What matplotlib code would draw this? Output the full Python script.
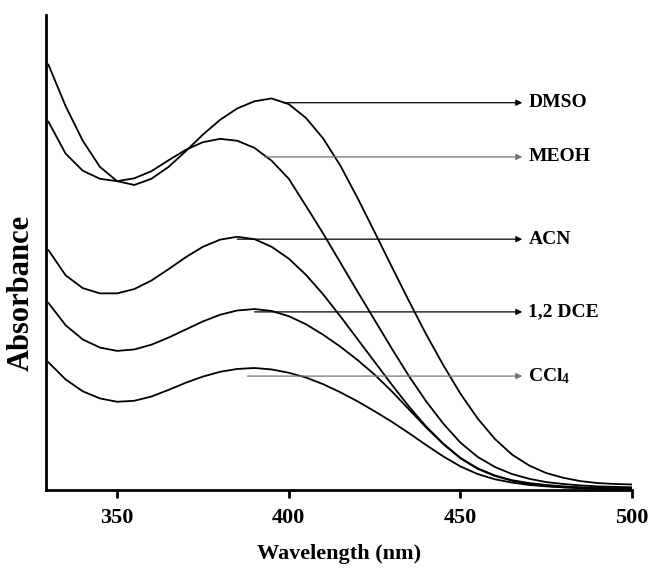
import numpy as np
import matplotlib
matplotlib.use("Agg")
import matplotlib.pyplot as plt

plt.rcParams['font.family'] = ['Liberation Serif', 'DejaVu Serif']
plt.rcParams['font.weight'] = 'bold'
plt.rcParams['mathtext.fontset'] = 'custom'
plt.rcParams['mathtext.bf'] = 'Liberation Serif:bold'
plt.rcParams['mathtext.rm'] = 'Liberation Serif:bold'
plt.rcParams['mathtext.default'] = 'bf'

# wavelength grid (nm), read every 5 nm
wavelength = np.arange(330, 501, 5)

# absorbance (arb. units)
dmso = [0.895, 0.808, 0.735, 0.680, 0.650, 0.642, 0.655, 0.680, 0.713, 0.748,
        0.779, 0.803, 0.818, 0.824, 0.812, 0.783, 0.740, 0.683, 0.615, 0.543,
        0.470, 0.398, 0.328, 0.263, 0.203, 0.151, 0.108, 0.075, 0.052, 0.036,
        0.026, 0.019, 0.015, 0.013, 0.012]
meoh = [0.775, 0.708, 0.672, 0.655, 0.650, 0.656, 0.671, 0.694, 0.716, 0.732,
        0.739, 0.735, 0.720, 0.693, 0.655, 0.598, 0.540, 0.479, 0.418, 0.358,
        0.298, 0.240, 0.187, 0.140, 0.100, 0.070, 0.049, 0.034, 0.024, 0.017,
        0.013, 0.010, 0.008, 0.007, 0.006]
acn = [0.505, 0.452, 0.425, 0.414, 0.414, 0.423, 0.441, 0.465, 0.490, 0.512,
       0.527, 0.533, 0.528, 0.512, 0.487, 0.453, 0.412, 0.366, 0.318, 0.270,
       0.222, 0.176, 0.134, 0.098, 0.068, 0.046, 0.031, 0.021, 0.015, 0.011,
       0.008, 0.006, 0.005, 0.004, 0.004]
dce = [0.394, 0.347, 0.317, 0.300, 0.293, 0.296, 0.306, 0.321, 0.338, 0.355,
       0.369, 0.378, 0.381, 0.377, 0.366, 0.349, 0.327, 0.302, 0.274, 0.243,
       0.208, 0.170, 0.132, 0.097, 0.067, 0.045, 0.030, 0.020, 0.013, 0.009,
       0.006, 0.005, 0.004, 0.004, 0.004]
ccl4 = [0.269, 0.233, 0.208, 0.193, 0.186, 0.188, 0.197, 0.211, 0.226, 0.239,
        0.249, 0.255, 0.257, 0.254, 0.247, 0.237, 0.223, 0.206, 0.187, 0.166,
        0.144, 0.120, 0.095, 0.071, 0.050, 0.034, 0.023, 0.016, 0.011, 0.008,
        0.006, 0.004, 0.003, 0.002, 0.002]

# labels and their arrows: (text, arrow y, arrow start nm)
labels = ['DMSO', 'MEOH', 'ACN', '1,2 DCE', 'CCl$_4$']
arrow_y = [0.815, 0.701, 0.528, 0.375, 0.240]
arrow_start = [398.5, 393.0, 385.0, 390.0, 388.0]
arrow_end = 468.0
arrow_color = ['black', '0.45', 'black', 'black', '0.45']

fig = plt.figure(figsize=(6.51, 5.68), dpi=100)
ax = fig.add_axes([0.0707, 0.137, 0.9003, 0.837])

for series in [dmso, meoh, acn, dce, ccl4]:
    ax.plot(wavelength, series, color='black', lw=1.3)

for text, y, x0, c in zip(labels, arrow_y, arrow_start, arrow_color):
    ax.annotate('', xy=(arrow_end, y), xytext=(x0, y),
                arrowprops=dict(arrowstyle='-|>', color=c, lw=0.9,
                                mutation_scale=9, shrinkA=0, shrinkB=0))
    ax.text(arrow_end + 1.8, y, text, fontsize=14, fontweight='bold',
            va='center', ha='left')

ax.set_xlim(329.3, 500)
ax.set_ylim(0, 1.0)
ax.set_xticks([350, 400, 450, 500])
ax.set_yticks([])
ax.spines['top'].set_visible(False)
ax.spines['right'].set_visible(False)
ax.spines['left'].set_linewidth(2)
ax.spines['bottom'].set_linewidth(2)
ax.tick_params(axis='x', direction='out', length=6, width=2, pad=7,
               labelsize=16)
for lab in ax.get_xticklabels():
    lab.set_fontweight('bold')

ax.set_xlabel('Wavelength (nm)', fontsize=16, fontweight='bold', labelpad=11)
ax.set_ylabel('Absorbance', fontsize=22, fontweight='bold')
ax.yaxis.set_label_coords(-0.018, 0.415)

plt.savefig('out.png', dpi=100)
